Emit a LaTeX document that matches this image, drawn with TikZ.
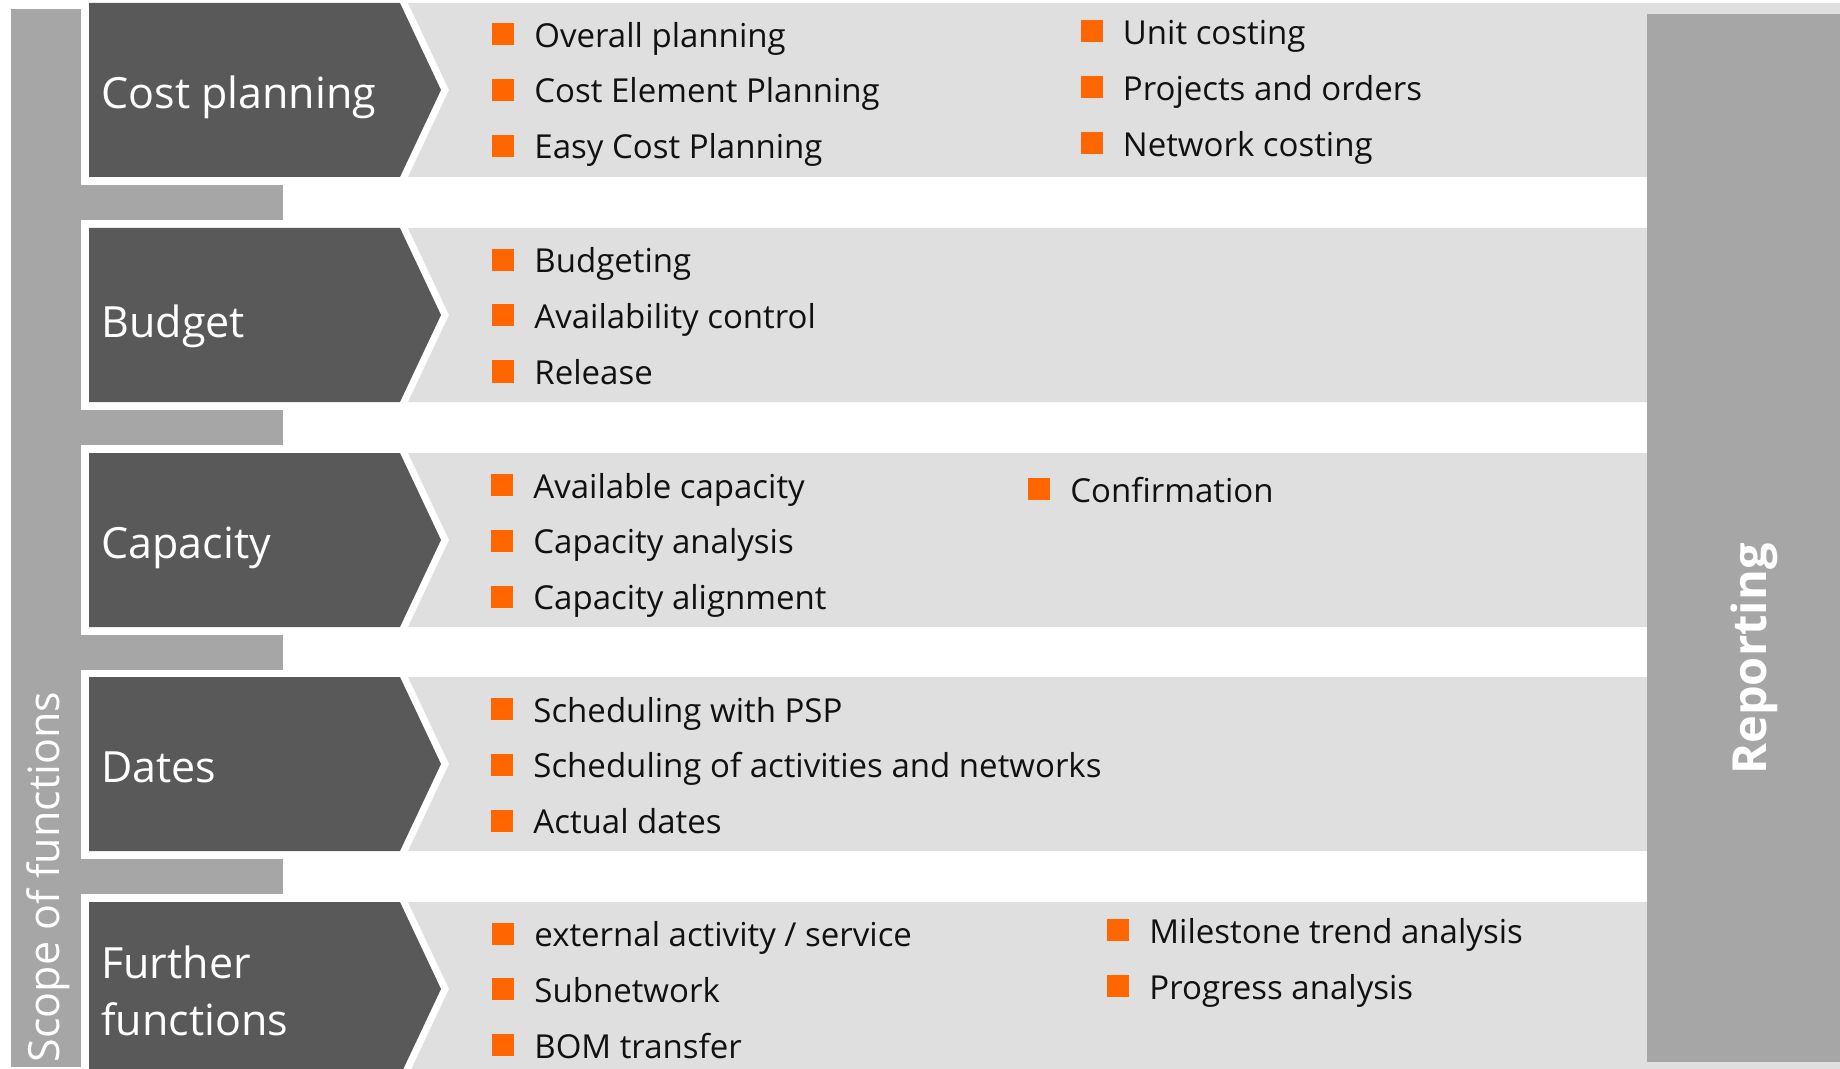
\documentclass[tikz,border=0pt]{standalone}
\usepackage{fontspec}
\setmainfont{Open Sans}
\definecolor{darkbox}{HTML}{595959}
\definecolor{lightband}{HTML}{DFDFDF}
\definecolor{midgray}{HTML}{A6A6A6}
\definecolor{bulorange}{HTML}{FF6600}
\definecolor{txt}{HTML}{111111}
\newcommand\bitem[4]{%
  \fill[bulorange] (#2-11,#3-11) rectangle (#2+11,#3+11);
  \node[itemtext] (#1) at (#2+31,#3+13) {#4};
}
\begin{document}
\begin{tikzpicture}[x=0.5pt,y=-0.5pt,
  itemtext/.style={anchor=base west, inner sep=0pt, text=txt, font=\fontsize{16.5}{20}\selectfont},
  lbl/.style={anchor=base west, inner sep=0pt, text=white, font=\fontsize{21.5}{28.5}\selectfont},
  vlbl/.style={rotate=90, inner sep=0pt, text=white}]
\useasboundingbox (0,0) rectangle (1840,1069);
% light bands
\foreach \T in {3,228,453,677,902}{
  \fill[lightband] (408,\T) -- (1840,\T) -- (1840,\T+174) -- (408,\T+174) -- (449,\T+87) -- cycle;
}
% connector bars
\foreach \T in {3,228,453,677}{
  \fill[midgray] (81,\T+182) rectangle (283,\T+217);
}
% vertical scope bar
\fill[midgray] (11,9) rectangle (81,1067);
% dark chevrons
\foreach \T in {3,228,453,677,902}{
  \fill[darkbox] (89,\T) -- (400,\T) -- (441,\T+87) -- (400,\T+174) -- (89,\T+174) -- cycle;
}
% reporting bar
\fill[midgray] (1647,14) rectangle (1840,1062);
\node[vlbl, font=\fontsize{23.5}{27}\selectfont\bfseries] (reporting) at (1754,659) {Reporting};
\node[vlbl, font=\fontsize{21.5}{24}\selectfont] (scope) at (48,877) {Scope of functions};
% labels
\node[lbl] (costplanning) at (101,109) {Cost planning};
\node[lbl] (budget) at (101,337) {Budget};
\node[lbl] (capacity) at (101,558) {Capacity};
\node[lbl] (dates) at (101,782) {Dates};
\node[lbl, align=left, anchor=west] (further) at (101,991) {Further\\functions};
% row 1
\bitem{i11}{503}{34.5}{Overall planning}
\bitem{i12}{503}{90}{Cost Element Planning}
\bitem{i13}{503}{146}{Easy Cost Planning}
\bitem{i14}{1091.5}{31.5}{Unit costing}
\bitem{i15}{1091.5}{87.5}{Projects and orders}
\bitem{i16}{1091.5}{143.5}{Network costing}
% row 2
\bitem{i21}{503}{260}{Budgeting}
\bitem{i22}{503}{315.5}{Availability control}
\bitem{i23}{503}{371.5}{Release}
% row 3
\bitem{i31}{502}{485}{Available capacity}
\bitem{i32}{502}{540.5}{Capacity analysis}
\bitem{i33}{502}{596.5}{Capacity alignment}
\bitem{i34}{1039}{489}{Confirmation}
% row 4
\bitem{i41}{502}{709}{Scheduling with PSP}
\bitem{i42}{502}{764.5}{Scheduling of activities and networks}
\bitem{i43}{502}{820.5}{Actual dates}
% row 5
\bitem{i51}{503}{933.5}{external activity / service}
\bitem{i52}{503}{989}{Subnetwork}
\bitem{i53}{503}{1045}{BOM transfer}
\bitem{i54}{1118}{930}{Milestone trend analysis}
\bitem{i55}{1118}{986}{Progress analysis}
\end{tikzpicture}
\end{document}
